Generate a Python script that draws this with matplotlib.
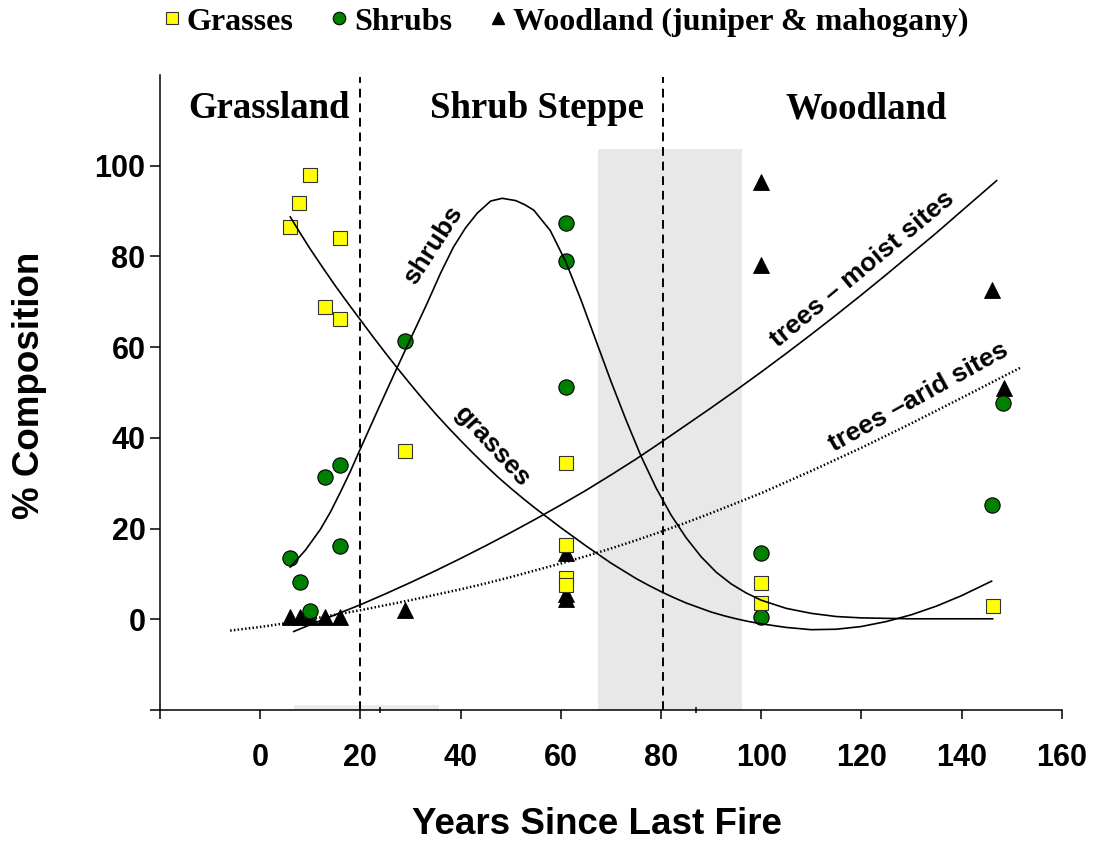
import matplotlib
matplotlib.use("Agg")
import matplotlib.pyplot as plt
from matplotlib.patches import Rectangle
from matplotlib.lines import Line2D

# plot samples: years since fire vs % composition
grass_x = [6, 7.8, 10, 16, 13, 16, 29, 61, 61, 61, 61, 100, 100, 146.2]
grass_y = [86.4, 91.7, 97.9, 84, 68.8, 66.3, 37, 34.4, 16.3, 9.2, 7.6, 7.9, 3.6, 2.9]

shrub_x = [6, 8, 10, 13, 16, 16, 29, 61, 61, 61, 100, 100, 146, 148.3]
shrub_y = [13.4, 8.3, 1.9, 31.3, 34.1, 16.2, 61.3, 87.3, 78.9, 51.3, 14.5, 0.4, 25.1, 47.7]

wood_x = [6, 8, 10, 13, 16, 29, 61, 61, 61, 100, 100, 146, 148.5]
wood_y = [0.5, 0.5, 0.5, 0.5, 0.5, 2.1, 14.5, 5.5, 4.5, 96.4, 78, 72.5, 51]

# fitted trend curves
grass_fit_x = [6, 8, 10, 12.5, 15, 17.5, 20, 22.5, 25, 27.5, 30, 32.5, 35, 37.5, 40, 42.5,
               45, 47.5, 50, 52.5, 55, 57.5, 60, 62.5, 65, 67.5, 70, 72.5, 75, 77.5, 80,
               82.5, 85, 87.5, 90, 92.5, 95, 97.5, 100, 105, 110, 115, 120, 125, 130, 135,
               140, 146]
grass_fit_y = [88.7, 85.1, 81.6, 77.5, 73.5, 69.7, 66.0, 62.3, 58.7, 55.2, 51.8, 48.5, 45.3,
               42.3, 39.4, 36.6, 33.9, 31.3, 28.9, 26.6, 24.4, 22.3, 20.2, 18.2, 16.2, 14.3,
               12.4, 10.7, 9.0, 7.5, 6.1, 4.8, 3.6, 2.6, 1.6, 0.8, 0.1, -0.5, -1.0, -1.8,
               -2.3, -2.2, -1.6, -0.5, 1.0, 2.9, 5.2, 8.4]

shrub_fit_x = [6, 9, 12, 14, 16, 18, 19.6, 23.5, 27.3, 30, 33.3, 36, 38.6, 41, 43.3, 46,
               48.3, 51, 52.8, 54.6, 57.9, 61, 64, 67, 70, 73, 76, 79, 82, 85, 88, 91, 94,
               97, 100, 105, 110, 115, 120, 130, 146.2]
shrub_fit_y = [11.5, 15.2, 19.8, 23.6, 28, 32.6, 36.6, 46.2, 55.4, 61.8, 69.6, 76.3, 82.1,
               86.3, 89.5, 92.2, 92.8, 92.3, 91.4, 90.2, 85.7, 78.8, 70.5, 61.5, 52.5, 44,
               36, 29, 23, 18, 13.8, 10.4, 7.8, 5.8, 4.2, 2.4, 1.3, 0.6, 0.3, 0.1, 0.1]

moist_x = [6.7, 10, 15, 20, 25, 30, 35, 40, 45, 50, 55, 60, 65, 70, 75, 80, 85, 90, 95,
           100, 105, 110, 115, 120, 125, 130, 135, 140, 147]
moist_y = [-2.7, -1.2, 1.0, 3.2, 5.6, 8.1, 10.7, 13.4, 16.2, 19.1, 22.1, 25.2, 28.4, 31.8,
           35.3, 39.0, 42.8, 46.6, 50.5, 54.5, 58.6, 62.8, 67.1, 71.5, 76.0, 80.6, 85.2,
           90.0, 96.7]

arid_x = [-6, 0, 5, 10, 15, 20, 25, 30, 35, 40, 45, 50, 55, 60, 65, 70, 75, 80, 85, 90,
          95, 100, 110, 120, 130, 140, 152]
arid_y = [-2.5, -1.7, -0.9, 0, 1.0, 2.0, 3.1, 4.2, 5.4, 6.6, 7.9, 9.3, 10.8, 12.3, 13.9,
          15.6, 17.4, 19.3, 21.3, 23.4, 25.6, 27.8, 32.7, 37.8, 43.2, 48.8, 55.6]

# stage boundaries and stage names
boundaries = [20, 80.4]
stages = ["Grassland", "Shrub Steppe", "Woodland"]
stage_x = [1.8, 55.2, 121]

xticks = [-20, 0, 20, 40, 60, 80, 100, 120, 140, 160]
yticks = [-20, 0, 20, 40, 60, 80, 100]

sans = "Liberation Sans"
serif = "Liberation Serif"

fig = plt.figure(figsize=(10.99, 8.44), dpi=100)
ax = fig.add_axes([0.1456, 0.1588, 0.8205, 0.7524])

# shaded transition band and a thin strip along the axis
ax.add_patch(Rectangle((67.5, -20), 28.7, 123.6, facecolor="#e8e8e8", edgecolor="none", zorder=0))
ax.add_patch(Rectangle((6.8, -20), 28.9, 1.0, facecolor="#ebebeb", edgecolor="none", zorder=0))

ax.vlines(boundaries, -20, 119.6, colors="black", linestyles=(0, (4.5, 3)), linewidth=1.4, zorder=1)

ax.plot(wood_x, wood_y, ls="none", marker="^", ms=11.5, mfc="black", mec="black", mew=0.6, zorder=3)
ax.plot(shrub_x, shrub_y, ls="none", marker="o", ms=11, mfc="#008000", mec="black", mew=0.8, zorder=4)
ax.plot(grass_x, grass_y, ls="none", marker="s", ms=9.4, mfc="#ffff00", mec="#333333", mew=0.8, zorder=5)

ax.plot(grass_fit_x, grass_fit_y, color="black", lw=1.2, zorder=6, solid_joinstyle="round")
ax.plot(shrub_fit_x, shrub_fit_y, color="black", lw=1.2, zorder=6, solid_joinstyle="round")
ax.plot(moist_x, moist_y, color="black", lw=1.2, zorder=6, solid_joinstyle="round")
ax.plot(arid_x, arid_y, color="black", lw=1.8, ls=(0, (0.6, 0.9)), zorder=6)

# curve labels
ax.text(34.6, 82.5, "shrubs", rotation=57, ha="center", va="center", rotation_mode="anchor",
        fontsize=19, fontweight="bold", family=sans)
ax.text(46.4, 38.1, "grasses", rotation=-47.5, ha="center", va="center", rotation_mode="anchor",
        fontsize=19, fontweight="bold", family=sans)
ax.text(120.3, 77.2, "trees \u2013 moist sites", rotation=39.6, ha="center", va="center",
        rotation_mode="anchor", fontsize=19, fontweight="bold", family=sans)
ax.text(131.5, 48.9, "trees \u2013arid sites", rotation=29, ha="center", va="center",
        rotation_mode="anchor", fontsize=19, fontweight="bold", family=sans)

for name, sx in zip(stages, stage_x):
    ax.text(sx, 110.5, name, ha="center", va="baseline", fontsize=26.5, fontweight="bold", family=serif)

ax.set_xlim(-20, 160)
ax.set_ylim(-20, 120)
ax.spines["top"].set_visible(False)
ax.spines["right"].set_visible(False)
ax.spines["left"].set_linewidth(1.1)
ax.spines["bottom"].set_linewidth(1.1)

ax.set_xticks(xticks)
ax.set_xticklabels(["" if t < 0 else str(t) for t in xticks])
ax.set_yticks(yticks)
ax.set_yticklabels(["" if t < 0 else str(t) for t in yticks])
ax.set_xticks([24, 87], minor=True)
ax.tick_params(axis="x", which="major", length=6.5, width=1.1, pad=17, labelsize=22)
ax.tick_params(axis="x", which="minor", length=5, width=1.1, direction="inout")
ax.tick_params(axis="y", length=7, width=1.1, pad=3.5, labelsize=22)
for lab in ax.get_xticklabels() + ax.get_yticklabels():
    lab.set_fontweight("bold")
    lab.set_family(sans)

fig.text(597 / 1099, 1 - 825 / 844, "Years Since Last Fire", ha="center", va="center",
         fontsize=26.5, fontweight="bold", family=sans)
fig.text(30 / 1099, 1 - 385 / 844, "% Composition", rotation=90, ha="center", va="center",
         fontsize=26.5, fontweight="bold", family=sans)

handles = [
    Line2D([], [], ls="none", marker="s", ms=8, mfc="#ffff00", mec="#333333", mew=0.8),
    Line2D([], [], ls="none", marker="o", ms=9, mfc="#008000", mec="black", mew=0.8),
    Line2D([], [], ls="none", marker="^", ms=8.5, mfc="black", mec="black"),
]
fig.legend(handles, ["Grasses", "Shrubs", "Woodland (juniper & mahogany)"], loc="center",
           bbox_to_anchor=(566 / 1099, 1 - 22 / 844), ncol=3, frameon=False,
           handlelength=0.5, handletextpad=0.2, columnspacing=1.2,
           prop={"family": serif, "weight": "bold", "size": 23})

fig.savefig("out.png", dpi=100)
